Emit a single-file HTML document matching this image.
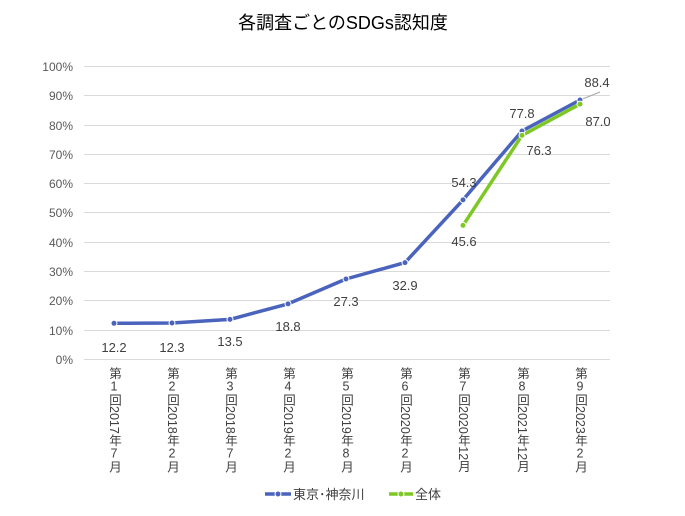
<!DOCTYPE html><html><head><meta charset="utf-8"><style>
body{margin:0;background:#fff;width:685px;height:516px;overflow:hidden}
svg text{font-family:"Liberation Sans","Noto Sans CJK JP",sans-serif}
.v{writing-mode:vertical-rl;text-orientation:mixed;position:absolute;top:367px;font:12.5px "Liberation Sans","Noto Sans CJK JP",sans-serif;color:#404040;line-height:16px;width:16px}
.v u{text-decoration:none;text-orientation:upright}
</style></head><body>
<svg width="685" height="516" style="position:absolute;left:0;top:0">
<text x="343" y="29" font-size="18" text-anchor="middle" fill="#000">各調査ごとのSDGs認知度</text>
<g stroke="#d9d9d9" stroke-width="1">
<line x1="84" x2="610" y1="359.5" y2="359.5"/><line x1="84" x2="610" y1="330.5" y2="330.5"/><line x1="84" x2="610" y1="300.5" y2="300.5"/><line x1="84" x2="610" y1="271.5" y2="271.5"/><line x1="84" x2="610" y1="242.5" y2="242.5"/><line x1="84" x2="610" y1="212.5" y2="212.5"/><line x1="84" x2="610" y1="183.5" y2="183.5"/><line x1="84" x2="610" y1="154.5" y2="154.5"/><line x1="84" x2="610" y1="125.5" y2="125.5"/><line x1="84" x2="610" y1="95.5" y2="95.5"/><line x1="84" x2="610" y1="66.5" y2="66.5"/>
</g>
<g font-size="12" fill="#595959" text-anchor="end">
<text x="73" y="364">0%</text><text x="73" y="335">10%</text><text x="73" y="305">20%</text><text x="73" y="276">30%</text><text x="73" y="247">40%</text><text x="73" y="217">50%</text><text x="73" y="188">60%</text><text x="73" y="159">70%</text><text x="73" y="130">80%</text><text x="73" y="100">90%</text><text x="73" y="71">100%</text>
</g>
<line x1="580" y1="100" x2="600" y2="92" stroke="#a6a6a6" stroke-width="1"/>
<polyline fill="none" stroke="#4a63bd" stroke-width="3.5" stroke-linejoin="round" points="114,323.3 172,323 230,319.4 288,303.9 346,279 405,262.6 463,199.9 522,131 580,100"/>
<polyline fill="none" stroke="#7ec825" stroke-width="3.5" stroke-linejoin="round" points="463,225.4 522,135.4 580,104.1"/>
<g fill="#4a63bd" stroke="#fff" stroke-width="1"><circle cx="114" cy="323.3" r="3"/><circle cx="172" cy="323" r="3"/><circle cx="230" cy="319.4" r="3"/><circle cx="288" cy="303.9" r="3"/><circle cx="346" cy="279" r="3"/><circle cx="405" cy="262.6" r="3"/><circle cx="463" cy="199.9" r="3"/><circle cx="522" cy="131" r="3"/><circle cx="580" cy="100" r="3"/></g>
<g fill="#7ec825" stroke="#fff" stroke-width="1"><circle cx="463" cy="225.4" r="3"/><circle cx="522" cy="135.4" r="3"/><circle cx="580" cy="104.1" r="3"/></g>
<g font-size="13" fill="#404040" text-anchor="middle">
<text x="114" y="352">12.2</text><text x="172" y="352">12.3</text><text x="230" y="346">13.5</text><text x="288" y="331">18.8</text><text x="346" y="306">27.3</text><text x="405" y="290">32.9</text><text x="464" y="187">54.3</text><text x="464" y="246">45.6</text><text x="522" y="118">77.8</text><text x="539" y="155">76.3</text><text x="597" y="87">88.4</text><text x="598" y="126">87.0</text>
</g>
<line x1="265" y1="494" x2="291" y2="494" stroke="#4a63bd" stroke-width="3.5"/><circle cx="278" cy="494" r="3" fill="#4a63bd" stroke="#fff"/>
<text x="293" y="499" font-size="13" fill="#404040">東京･神奈川</text>
<line x1="389" y1="494" x2="413" y2="494" stroke="#7ec825" stroke-width="3.5"/><circle cx="401" cy="494" r="3" fill="#7ec825" stroke="#fff"/>
<text x="415" y="499" font-size="13" fill="#404040">全体</text>
</svg>
<div class="v" style="left:106px">第<u>1</u>回2017年<u>7</u>月</div>
<div class="v" style="left:164px">第<u>2</u>回2018年<u>2</u>月</div>
<div class="v" style="left:222px">第<u>3</u>回2018年<u>7</u>月</div>
<div class="v" style="left:280px">第<u>4</u>回2019年<u>2</u>月</div>
<div class="v" style="left:338px">第<u>5</u>回2019年<u>8</u>月</div>
<div class="v" style="left:397px">第<u>6</u>回2020年<u>2</u>月</div>
<div class="v" style="left:455px">第<u>7</u>回2020年12月</div>
<div class="v" style="left:514px">第<u>8</u>回2021年12月</div>
<div class="v" style="left:572px">第<u>9</u>回2023年<u>2</u>月</div>
</body></html>
